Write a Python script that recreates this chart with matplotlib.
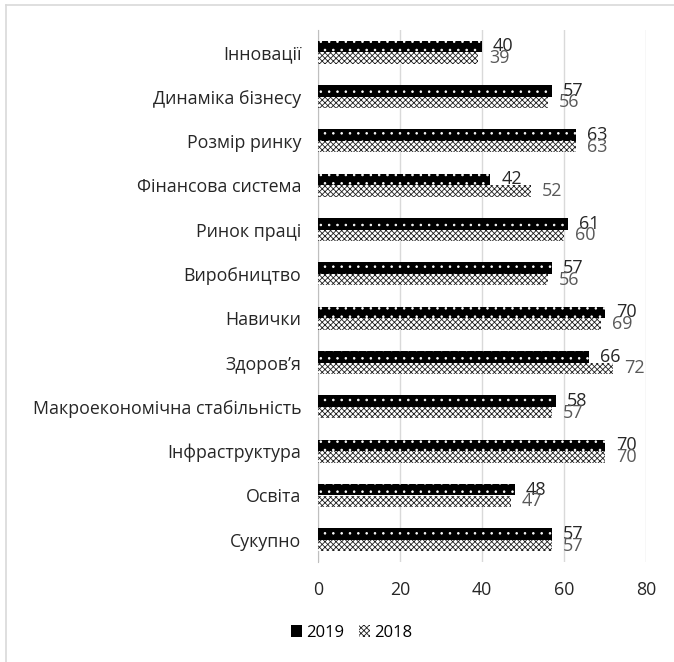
import numpy as np
import matplotlib
matplotlib.use('Agg')
import matplotlib.pyplot as plt
from matplotlib.lines import Line2D

plt.rcParams['font.family'] = ['Open Sans', 'DejaVu Sans']
plt.rcParams['hatch.linewidth'] = 0.6

# Дані
categories = ['Інновації', 'Динаміка бізнесу', 'Розмір ринку', 'Фінансова система',
              'Ринок праці', 'Виробництво', 'Навички', 'Здоров’я',
              'Макроекономічна стабільність', 'Інфраструктура', 'Освіта', 'Сукупно']
values_2019 = [40, 57, 63, 42, 61, 57, 70, 66, 58, 70, 48, 57]
values_2018 = [39, 56, 63, 52, 60, 56, 69, 72, 57, 70, 47, 57]
x_ticks = [0, 20, 40, 60, 80]

fig = plt.figure(figsize=(6.74, 6.62), dpi=100)
ax = fig.add_axes([318/674, 1-562/662, 328/674, 532/662])

y = np.arange(len(categories))
h = 0.26

# 2019 - чорні з точками
ax.barh(y - h/2, values_2019, height=h, color='black', edgecolor='white',
        hatch='..', linewidth=0, zorder=3)
# 2018 - сітка
ax.barh(y + h/2, values_2018, height=h, color='white', edgecolor='#202020',
        hatch='xxxxxx', linewidth=0, zorder=3)

for i in range(len(categories)):
    ax.annotate(str(values_2019[i]), (values_2019[i], y[i] - h/2), xytext=(8, 0),
                textcoords='offset points', va='center', ha='left',
                fontsize=13, color='#262626', zorder=4)
    ax.annotate(str(values_2018[i]), (values_2018[i], y[i] + h/2), xytext=(8, 0),
                textcoords='offset points', va='center', ha='left',
                fontsize=13, color='#595959', zorder=4)

ax.set_xlim(0, 80)
ax.set_ylim(len(categories) - 0.5, -0.5)
ax.set_xticks(x_ticks)
ax.set_yticks(y)
ax.set_yticklabels(categories)
ax.tick_params(axis='both', length=0, labelsize=12.8, colors='#262626')
ax.tick_params(axis='x', pad=14)
ax.tick_params(axis='y', pad=12)
ax.grid(axis='x', color='#d9d9d9', linewidth=1, zorder=0)
for s in ['top', 'right', 'bottom']:
    ax.spines[s].set_visible(False)
ax.spines['left'].set_color('#bfbfbf')

# Легенда
handles = [plt.Rectangle((0, 0), 1, 1, facecolor='black', linewidth=0),
           plt.Rectangle((0, 0), 1, 1, facecolor='white', edgecolor='#202020', hatch='xxxxxx', linewidth=0)]
fig.legend(handles, ['2019', '2018'], loc='center left', bbox_to_anchor=(284/674, 1-633/662),
           ncol=2, frameon=False, fontsize=12, handlelength=0.7, handleheight=0.7,
           handletextpad=0.2, columnspacing=0.9, borderaxespad=0)

# рамка
fig.add_artist(Line2D([6/674, 1.0], [1-5/662, 1-5/662], color='#d9d9d9', linewidth=1.2))
fig.add_artist(Line2D([6/674, 6/674], [1-5/662, 0.0], color='#d9d9d9', linewidth=1.2))

fig.savefig('out.png', dpi=100, facecolor='white')
